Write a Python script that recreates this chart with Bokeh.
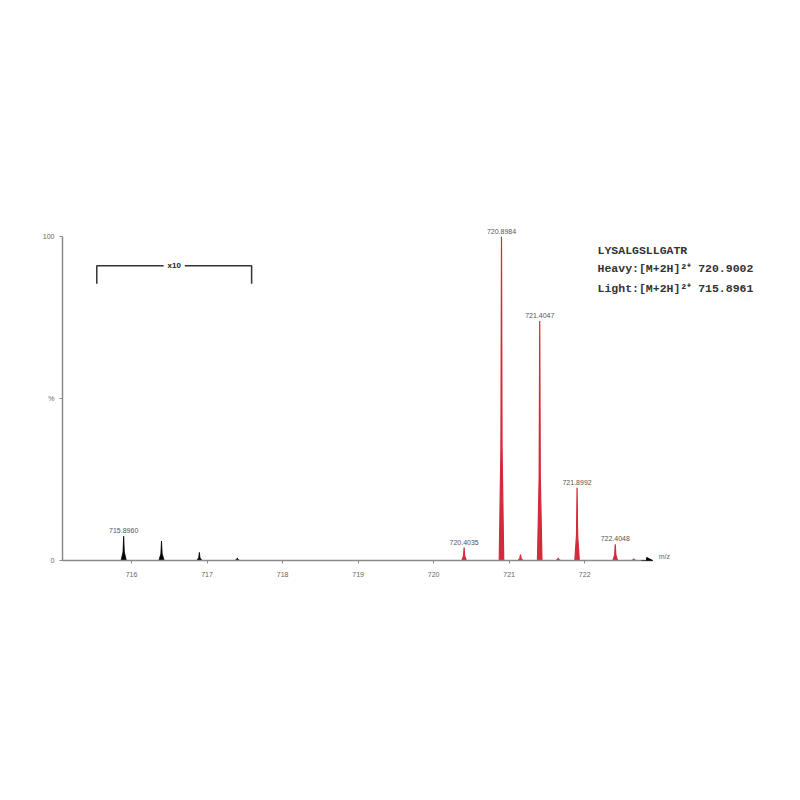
from bokeh.plotting import figure
from bokeh.models import Range1d, FixedTicker, Label, Arrow, NormalHead
from bokeh.embed import file_html
from bokeh.resources import INLINE

# light (black, shown x10) and heavy (red) isotope peaks: m/z and relative intensity (%)
light_mz = [715.896, 716.397, 716.898, 717.40]
light_int = [7.5, 6.0, 2.5, 0.8]
heavy_mz = [720.4035, 720.8984, 721.15, 721.4047, 721.65, 721.8992, 722.4048, 722.65]
heavy_int = [4.0, 100.0, 1.8, 74.0, 0.8, 22.5, 5.0, 0.5]
label_mz = [715.8960, 720.4035, 720.8984, 721.4047, 721.8992, 722.4048]
label_int = [7.5, 4.0, 100.0, 74.0, 22.5, 5.0]
label_txt = ["715.8960", "720.4035", "720.8984", "721.4047", "721.8992", "722.4048"]
x_ticks = [716, 717, 718, 719, 720, 721, 722]
y_ticks = [0, 50, 100]
y_tick_text = {0: "0", 50: "%", 100: "100"}
info_lines = ["LYSALGSLLGATR", "Heavy:[M+2H]\u00b2\u207a 720.9002", "Light:[M+2H]\u00b2\u207a 715.8961"]
info_y = [95.7, 90.1, 84.0]
bracket = [715.54, 717.59, 91.0, 85.5]
x_axis_end = 722.9

p = figure(width=784, height=784, output_backend="svg", toolbar_location=None,
           x_range=Range1d(715.086, 724.5), y_range=Range1d(0, 105),
           min_border_left=62, min_border_right=11, min_border_top=220, min_border_bottom=224)
p.outline_line_color = None
p.grid.visible = False
p.background_fill_color = "white"

for ax in (p.xaxis[0], p.yaxis[0]):
    ax.axis_line_color = "#8a8a8a"
    ax.axis_line_width = 1.5
    ax.major_tick_line_color = "#8a8a8a"
    ax.minor_tick_line_color = None
    ax.major_label_text_color = "#666666"
    ax.major_label_text_font_size = "7px"
    ax.major_tick_in = 0
    ax.major_tick_out = 3
p.xaxis.major_label_standoff = 8
p.xaxis.ticker = FixedTicker(ticks=x_ticks)
p.xaxis.bounds = (715.086, x_axis_end)
p.yaxis.ticker = FixedTicker(ticks=y_ticks)
p.yaxis.major_label_overrides = y_tick_text
p.yaxis.bounds = (0, 100)

def peak_patches(mz, inten, w):
    xs = [[m - w, m - w * 0.25, m, m + w * 0.25, m + w] for m in mz]
    ys = [[0, i * 0.35, i, i * 0.35, 0] for i in inten]
    return xs, ys

lx, ly = peak_patches(light_mz, light_int, 0.035)
p.patches(lx, ly, fill_color="black", line_color="black", line_width=0.8)
hx, hy = peak_patches(heavy_mz, heavy_int, 0.03)
p.patches(hx, hy, fill_color="#d42a3c", line_color="#d42a3c", line_width=1.2)

# baseline arrow at the end of the m/z axis
p.add_layout(Arrow(x_start=x_axis_end - 0.15, y_start=0, x_end=x_axis_end, y_end=0,
                   line_color="black", line_width=1,
                   end=NormalHead(size=6, fill_color="black", line_color="black")))

for mz, it, t in zip(label_mz, label_int, label_txt):
    p.add_layout(Label(x=mz, y=it, y_offset=3, text=t, text_font_size="7px", text_color="#555555",
                       text_align="center", text_baseline="bottom", text_font="Liberation Sans"))

# x10 bracket
x0, x1, ytop, ybot = bracket
p.line([x0, x0, (x0 + x1) / 2 - 0.14], [ybot, ytop, ytop], line_color="#333333", line_width=1.5)
p.line([(x0 + x1) / 2 + 0.14, x1, x1], [ytop, ytop, ybot], line_color="#333333", line_width=1.5)
p.add_layout(Label(x=(x0 + x1) / 2, y=ytop, text="x10", text_align="center", text_baseline="middle",
                   text_font_size="8px", text_font_style="bold", text_color="#222222"))

p.add_layout(Label(x=x_axis_end, y=0, x_offset=6, y_offset=1, text="m/z", text_align="left",
                   text_baseline="bottom", text_font_size="7px", text_color="#666666"))

for t, yv in zip(info_lines, info_y):
    p.add_layout(Label(x=722.17, y=yv, text=t, text_align="left",
                       text_baseline="middle", text_font_size="11.5px", text_font_style="bold",
                       text_font="Liberation Mono", text_color="#333333"))

open("out.html", "w").write(file_html(p, INLINE))
